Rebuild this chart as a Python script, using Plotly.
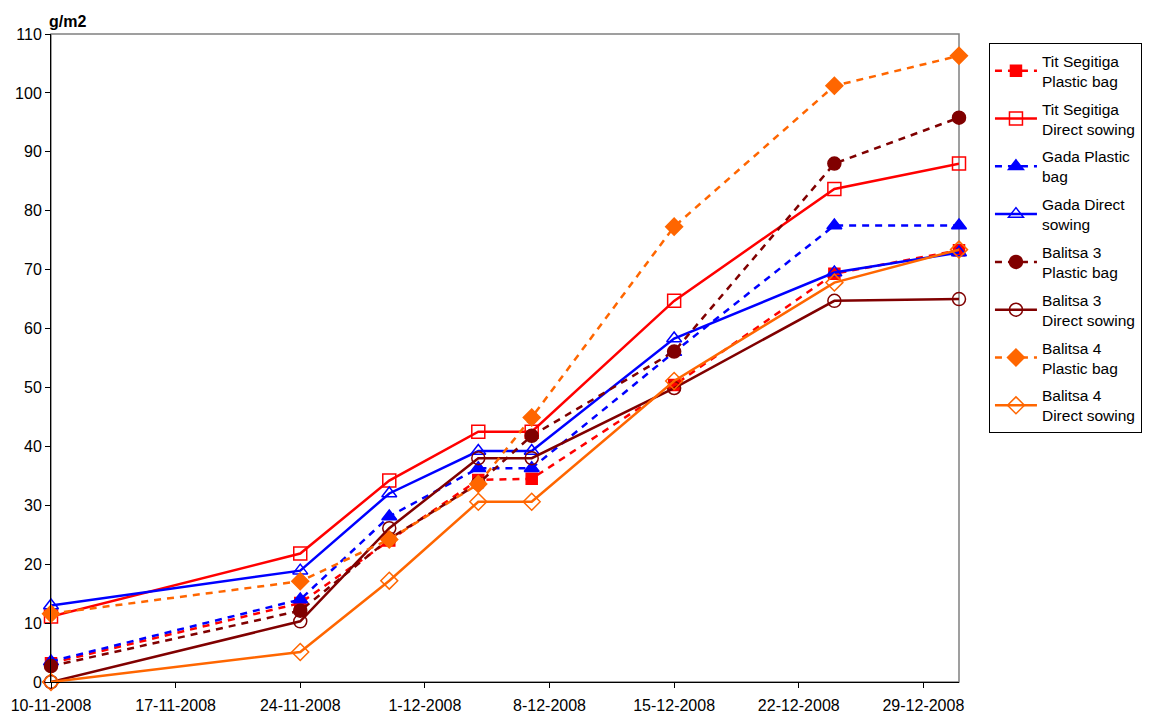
import plotly.graph_objects as go

dates = ["2008-11-10", "2008-11-24", "2008-11-29", "2008-12-04",
         "2008-12-07", "2008-12-15", "2008-12-24", "2008-12-31"]

tit_plastic = [3.2, 13.4, 24.0, 34.3, 34.5, 50.4, 69.3, 73.3]
tit_direct = [11.1, 21.8, 34.2, 42.5, 42.5, 64.7, 83.7, 88.0]
gada_plastic = [3.5, 14.0, 28.1, 36.3, 36.3, 56.0, 77.5, 77.5]
gada_direct = [13.0, 18.9, 32.0, 39.2, 39.2, 58.3, 69.5, 72.9]
bal3_plastic = [2.7, 12.1, 24.3, 33.7, 41.8, 56.1, 88.0, 95.8]
bal3_direct = [0.0, 10.3, 26.1, 38.0, 38.0, 49.9, 64.7, 65.0]
bal4_plastic = [11.6, 17.1, 24.2, 33.6, 44.9, 77.3, 101.2, 106.3]
bal4_direct = [0.0, 5.1, 17.2, 30.6, 30.6, 51.1, 67.8, 73.4]

series = [
    ("Tit Segitiga<br>Plastic bag", tit_plastic, "#FF0000", "square", "7px,6px", 11),
    ("Tit Segitiga<br>Direct sowing", tit_direct, "#FF0000", "square-open", "solid", 13),
    ("Gada Plastic<br>bag", gada_plastic, "#0000FF", "triangle-up", "7px,6px", 13),
    ("Gada Direct<br>sowing", gada_direct, "#0000FF", "triangle-up-open", "solid", 13),
    ("Balitsa 3<br>Plastic bag", bal3_plastic, "#800000", "circle", "7px,6px", 13),
    ("Balitsa 3<br>Direct sowing", bal3_direct, "#800000", "circle-open", "solid", 13),
    ("Balitsa 4<br>Plastic bag", bal4_plastic, "#FF6600", "diamond", "7px,6px", 13),
    ("Balitsa 4<br>Direct sowing", bal4_direct, "#FF6600", "diamond-open", "solid", 13),
]

fig = go.Figure()
for i, (name, vals, color, sym, dash, size) in enumerate(series):
    fig.add_trace(go.Scatter(
        x=dates, y=vals, name=name, mode="lines+markers",
        legendgroup=f"g{i}",
        line=dict(color=color, width=2.5, dash=dash),
        marker=dict(symbol=sym, size=size, color=color,
                    line=dict(color=color, width=1.5)),
        cliponaxis=False,
    ))

font_family = "Liberation Sans, Arial, sans-serif"

fig.update_layout(
    width=1143, height=705,
    paper_bgcolor="white", plot_bgcolor="white",
    margin=dict(l=43, r=192, t=26, b=31, autoexpand=False),
    font=dict(family=font_family, size=16, color="black"),
    showlegend=True,
    legend=dict(
        x=1.033, y=0.986, xanchor="left", yanchor="top",
        bordercolor="black", borderwidth=1, bgcolor="white",
        font=dict(size=15.5), itemwidth=42, tracegroupgap=4.5,
    ),
    xaxis=dict(
        type="date", automargin=False,
        range=["2008-11-10", "2008-12-31"],
        tick0="2008-11-10", dtick=7 * 86400000,
        tickformat="%-d-%m-%Y",
        showgrid=False, zeroline=False,
        showline=True, linecolor="black", linewidth=1,
        ticks="outside", ticklen=5, tickcolor="black",
        tickfont=dict(size=16), ticklabelstandoff=4,
    ),
    yaxis=dict(
        range=[0, 110], dtick=10, automargin=False,
        showgrid=False, zeroline=False,
        showline=True, linecolor="black", linewidth=1,
        ticks="outside", ticklen=5, tickcolor="black",
        tickfont=dict(size=16),
    ),
    shapes=[dict(type="rect", xref="paper", yref="paper", x0=0, x1=1, y0=0, y1=1,
                 line=dict(color="#808080", width=1.5), layer="below")],
    annotations=[dict(text="<b>g/m2</b>", xref="paper", yref="paper",
                      x=-0.004, y=1.0, xanchor="left", yanchor="bottom",
                      showarrow=False, font=dict(size=16), yshift=2)],
)

fig.write_html("out.html")
